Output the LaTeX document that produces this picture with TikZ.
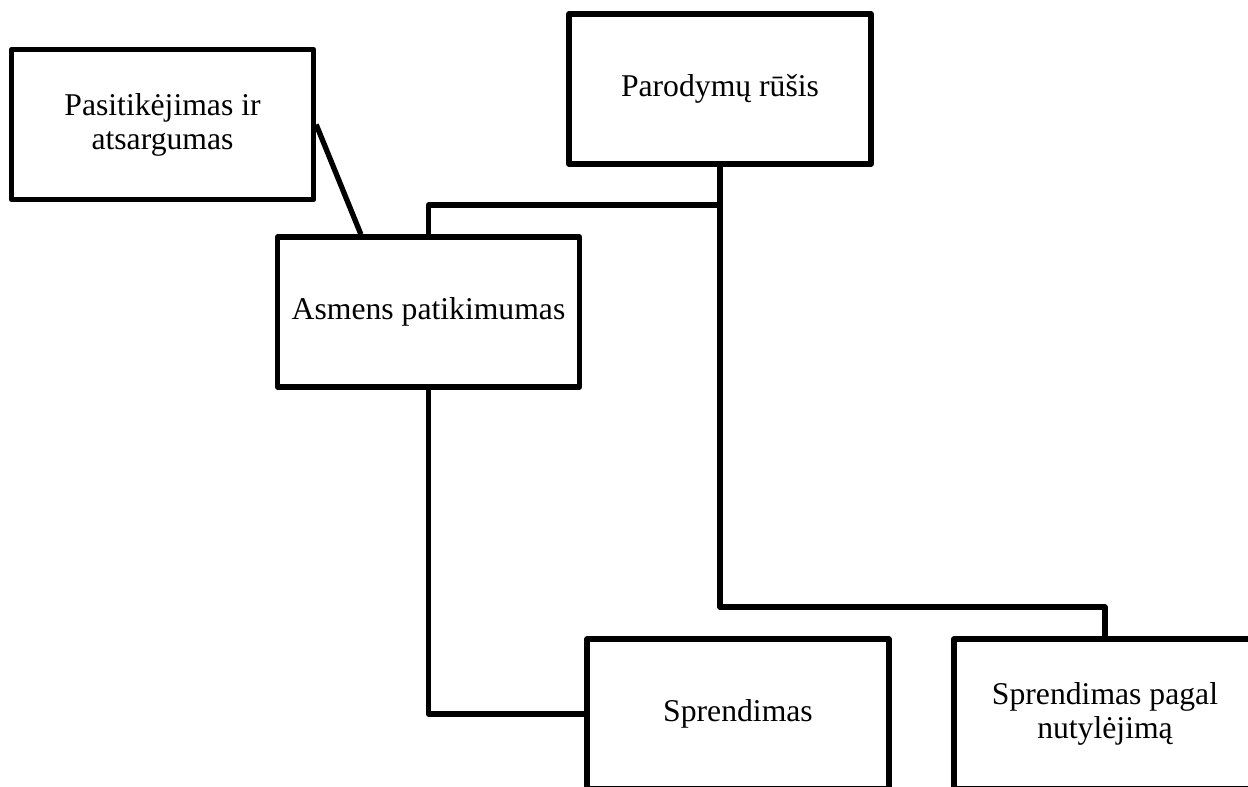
\documentclass[tikz,border=0pt]{standalone}
\usepackage{fontspec}
\setmainfont{Liberation Serif}
\usetikzlibrary{calc}
\tikzset{
  box/.style={draw, line width=5.3bp, line join=round, fill=white,
    minimum width=302bp, minimum height=150bp, inner sep=4bp,
    align=center, font=\fontsize{31.8pt}{34pt}\selectfont},
  link/.style={line width=5.3bp, line join=round}
}
\begin{document}
\begin{tikzpicture}[x=1bp, y=-1bp]
  \useasboundingbox (0,0) rectangle (1248,787);
  \clip (0,0) rectangle (1248,787);

  % junction points of the tree from the top box
  \coordinate (j1) at (720,205);
  \coordinate (j2) at (720,607);

  \node[box] (trust)   at (162.5,124.5) {Pasitikėjimas ir\\atsargumas};
  \node[box] (kind)    at (720,89)      {Parodymų rūšis};
  \node[box] (person)  at (428.5,312)   {Asmens patikimumas};
  \node[box] (dec)     at (738,714)     {Sprendimas};
  \node[box] (default) at (1105,714)    {Sprendimas pagal\\nutylėjimą};

  \draw[link] (trust.east) -- ($(person.north west)!0.28!(person.north east)$);
  \draw[link] (kind.south) -- (j1) -| (person.north);
  \draw[link] (j1) -- (j2) -| (default.north);
  \draw[link] (person.south) |- (dec.west);
\end{tikzpicture}
\end{document}
